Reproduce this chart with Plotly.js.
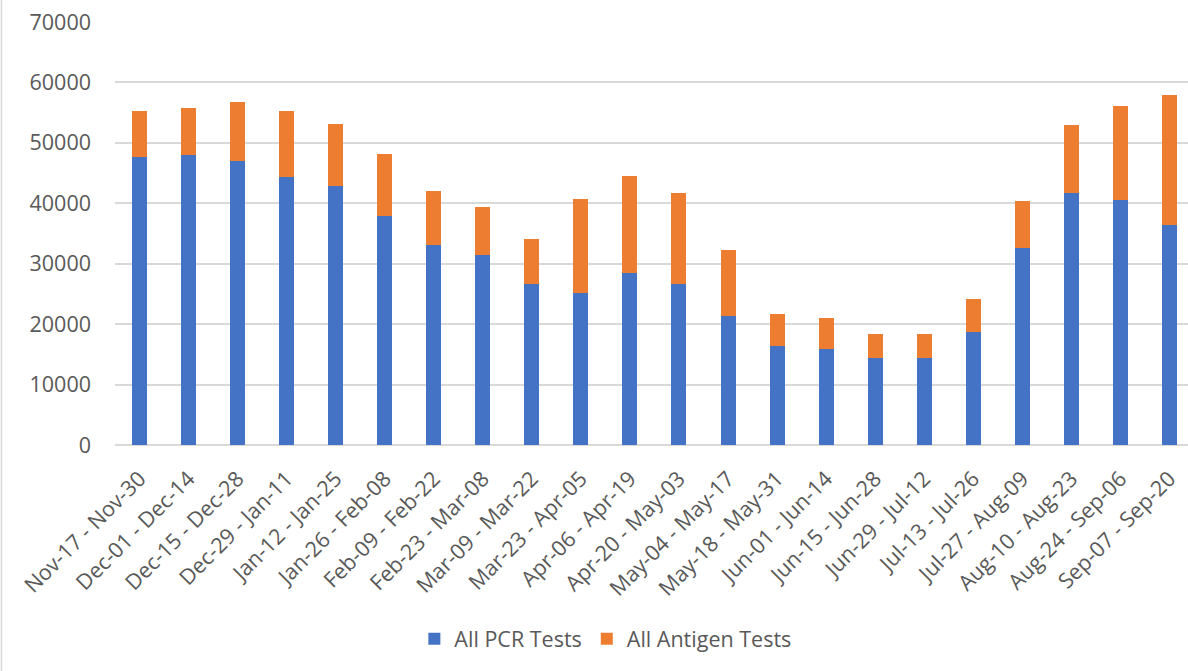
<!DOCTYPE html>
<html>
<head>
<meta charset="utf-8">
<script src="https://cdn.plot.ly/plotly-3.0.1.min.js"></script>
<style>
  html, body { margin: 0; padding: 0; background: #ffffff; overflow: hidden; }
  #chart { width: 1188px; height: 671px; }
</style>
</head>
<body>
<div id="chart"></div>
<script>
const categories = [
  "Nov-17 - Nov-30", "Dec-01 - Dec-14", "Dec-15 - Dec-28", "Dec-29 - Jan-11",
  "Jan-12 - Jan-25", "Jan-26 - Feb-08", "Feb-09 - Feb-22", "Feb-23 - Mar-08",
  "Mar-09 - Mar-22", "Mar-23 - Apr-05", "Apr-06 - Apr-19", "Apr-20 - May-03",
  "May-04 - May-17", "May-18 - May-31", "Jun-01 - Jun-14", "Jun-15 - Jun-28",
  "Jun-29 - Jul-12", "Jul-13 - Jul-26", "Jul-27 - Aug-09", "Aug-10 - Aug-23",
  "Aug-24 - Sep-06", "Sep-07 - Sep-20"
];

const pcrTests = [
  47600, 48000, 47050, 44400, 42900, 37850, 33100, 31380, 26650, 25200, 28400,
  26650, 21350, 16400, 15900, 14400, 14350, 18700, 32650, 41700, 40600, 36450
];

const antigenTests = [
  7600, 7800, 9750, 10800, 10150, 10250, 9000, 7950, 7500, 15500, 16050,
  15100, 11000, 5200, 5100, 3900, 3950, 5500, 7700, 11300, 15450, 21400
];

const yTicks = [0, 10000, 20000, 30000, 40000, 50000, 60000, 70000];

const textColor = "#595959";
const gridColor = "#d9d9d9";
const fontFamily = "'Open Sans', 'Noto Sans', sans-serif";
const fontSize = 21.5;

const traces = [
  {
    type: "bar",
    name: "All PCR Tests",
    x: categories,
    y: pcrTests,
    marker: { color: "#4472C4", line: { width: 0 } },
    hoverinfo: "x+y+name"
  },
  {
    type: "bar",
    name: "All Antigen Tests",
    x: categories,
    y: antigenTests,
    marker: { color: "#ED7D31", line: { width: 0 } },
    hoverinfo: "x+y+name"
  }
];

const layout = {
  width: 1188,
  height: 671,
  barmode: "stack",
  bargap: 0.694,
  paper_bgcolor: "#ffffff",
  plot_bgcolor: "#ffffff",
  font: { family: fontFamily, color: textColor, size: fontSize },
  margin: { l: 115, r: 0, t: 22, b: 226, pad: 0 },
  showlegend: true,
  legend: {
    orientation: "h",
    x: 0.279,
    xanchor: "left",
    y: -0.458,
    yanchor: "middle",
    font: { family: fontFamily, color: textColor, size: fontSize },
    traceorder: "normal",
    itemwidth: 30,
    bgcolor: "rgba(0,0,0,0)"
  },
  xaxis: {
    type: "category",
    range: [-0.5, 21.38],
    tickangle: -45,
    tickfont: { family: fontFamily, color: textColor, size: fontSize },
    showgrid: false,
    showline: false,
    ticks: "",
    ticklabelstandoff: 16,
    fixedrange: true
  },
  yaxis: {
    range: [0, 70000],
    tickmode: "array",
    tickvals: yTicks,
    ticktext: yTicks.map(String),
    tickfont: { family: fontFamily, color: textColor, size: fontSize },
    showgrid: true,
    gridcolor: gridColor,
    gridwidth: 2,
    zeroline: true,
    zerolinecolor: gridColor,
    zerolinewidth: 2,
    showline: false,
    ticks: "",
    ticklabelstandoff: 23,
    fixedrange: true
  },
  shapes: [
    {
      type: "line",
      xref: "paper",
      yref: "paper",
      x0: -0.1058, x1: -0.1058,
      y0: -0.54, y1: 1.06,
      line: { color: gridColor, width: 1.5 }
    }
  ]
};

Plotly.newPlot("chart", traces, layout, { displayModeBar: false, staticPlot: true });
</script>
</body>
</html>
